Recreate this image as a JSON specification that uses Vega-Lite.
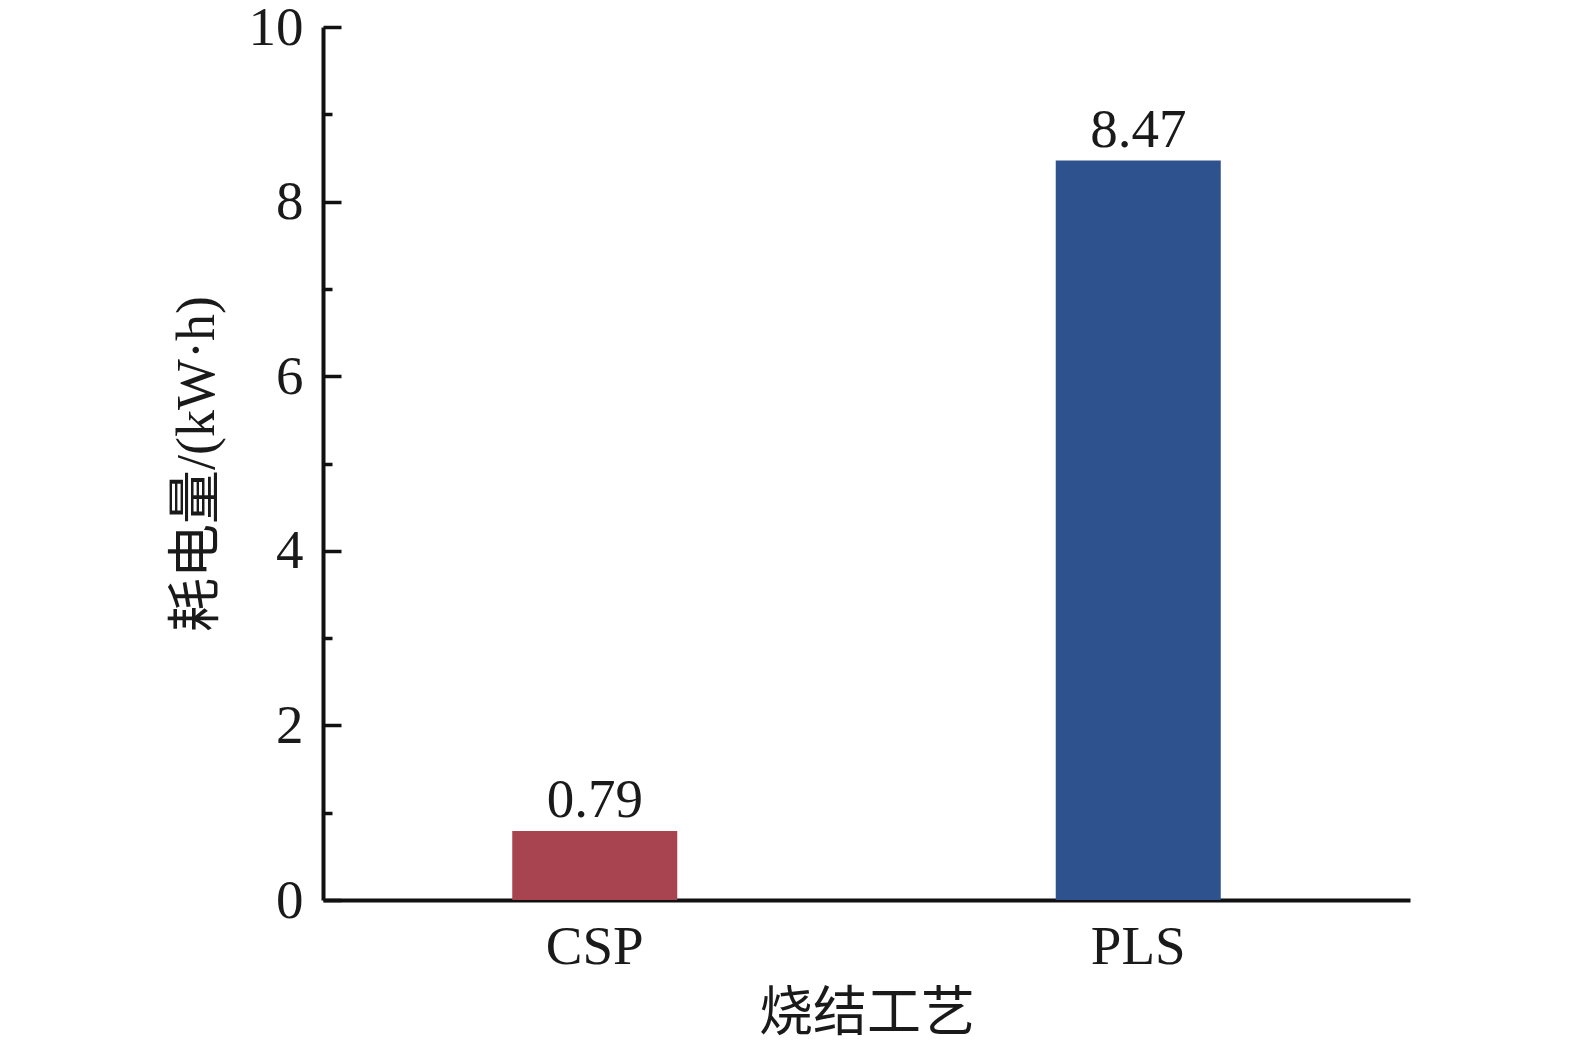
{
  "$schema": "https://vega.github.io/schema/vega-lite/v6.json",
  "autosize": {"type": "none"},
  "padding": {"left": 323, "top": 27, "right": 165, "bottom": 146},
  "width": 1087,
  "height": 873,
  "background": "white",
  "view": {"stroke": null},
  "data": {
    "values": [
      {"process": "CSP", "energy": 0.79},
      {"process": "PLS", "energy": 8.47}
    ]
  },
  "encoding": {
    "x": {
      "field": "process",
      "type": "nominal",
      "sort": ["CSP", "PLS"],
      "scale": {"paddingInner": 0, "paddingOuter": 0},
      "axis": {
        "title": "烧结工艺",
        "labelAngle": 0,
        "ticks": false,
        "labelPadding": 20,
        "titlePadding": 13,
        "domainWidth": 4,
        "domainColor": "#111111"
      }
    },
    "y": {
      "field": "energy",
      "type": "quantitative",
      "scale": {"domain": [0, 10], "nice": false},
      "axis": {
        "title": "耗电量/(kW·h)",
        "values": [0, 1, 2, 3, 4, 5, 6, 7, 8, 9, 10],
        "labelExpr": "datum.value % 2 == 1 ? '' : datum.label",
        "grid": false,
        "tickSize": {"condition": {"test": "datum.value % 2 == 1", "value": -9}, "value": -18},
        "tickWidth": 3.5,
        "tickColor": "#111111",
        "domainWidth": 4,
        "domainColor": "#111111",
        "labelPadding": 38,
        "titlePadding": 24
      }
    }
  },
  "layer": [
    {
      "mark": {"type": "bar", "width": 165},
      "encoding": {
        "color": {
          "field": "process",
          "type": "nominal",
          "scale": {"domain": ["CSP", "PLS"], "range": ["#a84350", "#2e528d"]},
          "legend": null
        }
      }
    },
    {
      "mark": {"type": "text", "baseline": "alphabetic", "dy": -14, "fontSize": 55, "font": "Liberation Serif", "color": "#1a1a1a"},
      "encoding": {"text": {"field": "energy", "type": "quantitative", "format": ".2f"}}
    }
  ],
  "config": {
    "font": "Liberation Serif, Noto Sans CJK SC",
    "axis": {
      "labelFont": "Liberation Serif",
      "labelFontSize": 55,
      "labelColor": "#1a1a1a",
      "titleFont": "Liberation Serif, Noto Sans CJK SC",
      "titleFontSize": 54,
      "titleFontWeight": "normal",
      "titleColor": "#1a1a1a"
    }
  }
}
